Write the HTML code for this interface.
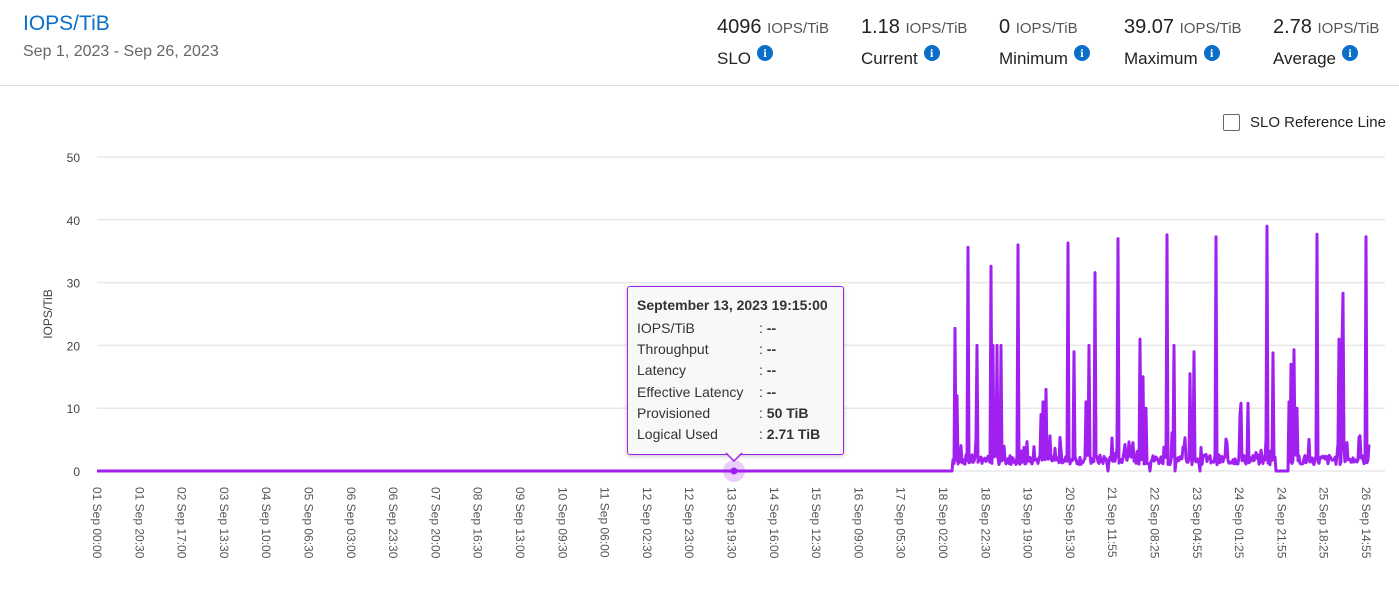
<!DOCTYPE html>
<html><head><meta charset="utf-8"><style>
body{margin:0;width:1399px;height:599px;background:#fff;font-family:"Liberation Sans",sans-serif;overflow:hidden;position:relative}
.t{position:absolute;left:23px;top:12px;font-size:21px;color:#0b6fc9}
.d{position:absolute;left:23px;top:43px;font-size:16px;color:#666}
.hr{position:absolute;left:0;top:85px;width:1399px;height:1px;background:#ddd}
.m{position:absolute;top:16px;font-size:20px;color:#222;white-space:nowrap}
.m span{font-size:15px;color:#555}
.l{position:absolute;top:49px;font-size:17px;color:#222;white-space:nowrap}
.i{display:inline-block;width:16px;height:16px;border-radius:50%;background:#0b6fc9;color:#fff;font-size:12px;font-weight:bold;text-align:center;line-height:16px;vertical-align:top;margin-left:6px;margin-top:-4px;font-family:"Liberation Serif",serif}
.cb{position:absolute;left:1223px;top:114px;width:15px;height:15px;border:1.5px solid #666;border-radius:2px}
.cbl{position:absolute;left:1250px;top:114px;font-size:15px;color:#222}
.tip{position:absolute;left:627px;top:286px;width:215px;height:167px;border:1.5px solid #a020f0;border-radius:3px;background:#f8f8f8;box-shadow:0 1px 4px rgba(0,0,0,.25);font-size:14px;color:#333}
.tip b.h{position:absolute;left:9px;top:10px;font-size:14px}
.tip div{position:absolute;left:9px}
.tip div i{font-style:normal;position:absolute;left:122px;white-space:nowrap}
</style></head><body>
<div class="t">IOPS/TiB</div>
<div class="d">Sep 1, 2023 - Sep 26, 2023</div>
<div class="hr"></div>
<div class="m" style="left:717px">4096 <span>IOPS/TiB</span></div><div class="l" style="left:717px">SLO<span class="i">i</span></div>
<div class="m" style="left:861px">1.18 <span>IOPS/TiB</span></div><div class="l" style="left:861px">Current<span class="i">i</span></div>
<div class="m" style="left:999px">0 <span>IOPS/TiB</span></div><div class="l" style="left:999px">Minimum<span class="i">i</span></div>
<div class="m" style="left:1124px">39.07 <span>IOPS/TiB</span></div><div class="l" style="left:1124px">Maximum<span class="i">i</span></div>
<div class="m" style="left:1273px">2.78 <span>IOPS/TiB</span></div><div class="l" style="left:1273px">Average<span class="i">i</span></div>
<div class="cb"></div><div class="cbl">SLO Reference Line</div>
<svg id="s" width="1399" height="599" style="position:absolute;left:0;top:0" font-family="Liberation Sans, sans-serif"></svg>
<div class="tip">
<b class="h">September 13, 2023 19:15:00</b>
<div style="top:33px">IOPS/TiB<i>: <b>--</b></i></div>
<div style="top:54px">Throughput<i>: <b>--</b></i></div>
<div style="top:75px">Latency<i>: <b>--</b></i></div>
<div style="top:97px">Effective Latency<i>: <b>--</b></i></div>
<div style="top:118px">Provisioned<i>: <b>50 TiB</b></i></div>
<div style="top:139px">Logical Used<i>: <b>2.71 TiB</b></i></div>
</div>
<script>
var s=document.getElementById('s'),h='';
function Y(v){return 471-v*6.28;}
for(var k=0;k<=5;k++){var y=Y(k*10);h+='<line x1="97" x2="1385" y1="'+y+'" y2="'+y+'" stroke="#e8e8e8" stroke-width="1.5"/>';h+='<text x="80" y="'+(y+5)+'" font-size="12" fill="#444" text-anchor="end">'+(k*10)+'</text>';}
h+='<text transform="translate(52,314) rotate(-90)" font-size="12" fill="#444" text-anchor="middle">IOPS/TiB</text>';
var labs=["01 Sep 00:00","01 Sep 20:30","02 Sep 17:00","03 Sep 13:30","04 Sep 10:00","05 Sep 06:30","06 Sep 03:00","06 Sep 23:30","07 Sep 20:00","08 Sep 16:30","09 Sep 13:00","10 Sep 09:30","11 Sep 06:00","12 Sep 02:30","12 Sep 23:00","13 Sep 19:30","14 Sep 16:00","15 Sep 12:30","16 Sep 09:00","17 Sep 05:30","18 Sep 02:00","18 Sep 22:30","19 Sep 19:00","20 Sep 15:30","21 Sep 11:55","22 Sep 08:25","23 Sep 04:55","24 Sep 01:25","24 Sep 21:55","25 Sep 18:25","26 Sep 14:55"];
for(var i=0;i<labs.length;i++){var x=97+i*(1366-97)/(labs.length-1);h+='<text transform="translate('+(x-4)+',487) rotate(90)" font-size="12" fill="#555">'+labs[i]+'</text>';}
var sp={955:22.7,957:12,968:35.6,977:20,991:32.6,993:20,997:20,1001:20,1018:36,1041:9,1043:11,1046:13,1068:36.3,1074:19,1086:11,1089:20,1095:31.6,1118:37,1140:21,1143:15,1146:10,1167:37.6,1174:20,1190:15.5,1194:19,1216:37.3,1240:9,1241:10.8,1248:10.8,1267:39,1273:18.8,1289:11,1291:17,1294:19.3,1297:10,1317:37.7,1339:21,1342:20,1343:28.3,1366:37.3};
var zero={1108:1,1150:1,1175:1,1200:1};
var seed=7;function r(){seed=(seed*9301+49297)%233280;return seed/233280;}
var p='M97,'+Y(0)+' L952,'+Y(0);
for(var x=953;x<=1369;x++){var v;
 if(sp[x]!==undefined)v=sp[x];
 else if(zero[x])v=0;
 else if(x>=1276&&x<=1288)v=0;
 else {v=1+r()*1.6;if(r()<0.12)v+=r()*4;}
 p+=' L'+x+','+Y(v).toFixed(1);}
h+='<path d="'+p+'" fill="none" stroke="#a020f0" stroke-width="3" stroke-linejoin="round"/>';
h+='<circle cx="734" cy="471" r="11" fill="#a020f0" opacity="0.22"/><circle cx="734" cy="471" r="3.5" fill="#a020f0"/>';
s.innerHTML=h;
</script>
<svg width="1399" height="599" style="position:absolute;left:0;top:0;pointer-events:none"><path d="M726,453 L734,461 L742,453" fill="#f8f8f8" stroke="#a020f0" stroke-width="1.5"/></svg>
</body></html>
